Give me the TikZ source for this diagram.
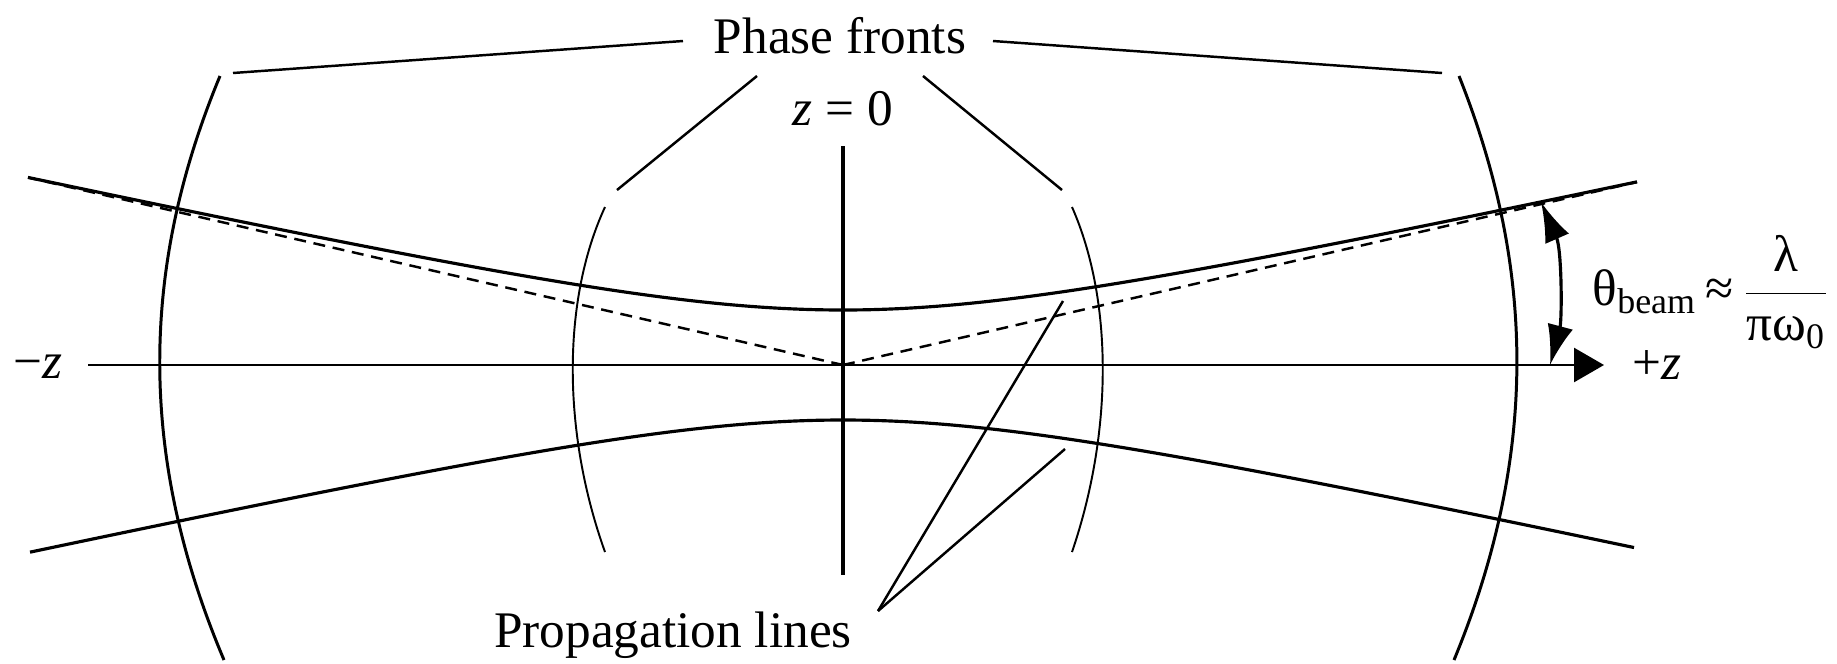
\documentclass[tikz,border=0pt]{standalone}
\usepackage{fontspec}
\setmainfont{Liberation Serif}
\usepackage{xcolor}
\definecolor{cInk}{HTML}{000000}
\usepackage{tikz}
\usetikzlibrary{positioning,arrows.meta,calc}
\tikzset{
  beam-line/.style={draw=cInk,line width=0.9pt},
  front-outer/.style={draw=cInk,line width=0.85pt},
  front-inner/.style={draw=cInk,line width=0.55pt},
  asym-line/.style={draw=cInk,line width=0.7pt,dash pattern=on 3.4pt off 2.2pt},
  leader/.style={draw=cInk,line width=0.7pt},
  axis-arrow/.style={-{Triangle[length=3mm,width=3.4mm]},line width=0.75pt,draw=cInk},
  angle-arrow/.style={{Latex[length=4mm,width=2.6mm]}-{Latex[length=4mm,width=2.6mm]},
    line width=0.9pt,draw=cInk},
  lbl/.style={font=\fontsize{14.6}{17}\selectfont,inner sep=0pt,text=cInk},
}

\begin{document}
\begin{tikzpicture}[x=0.1mm,y=-0.1mm]
  \useasboundingbox (0,0) rectangle (1837,663);

  % waist, beam ends
  \coordinate (o) at (843,365);
  \coordinate (bl) at (28,177.5);
  \coordinate (br) at (1637,182);

  % labels
  \node[lbl,anchor=base] (pf) at (840,53) {Phase fronts};
  \node[lbl,anchor=base] (z0) at (843,125) {\textit{z} = 0};
  \node[lbl,anchor=base] (pl) at (673,647) {Propagation lines};
  \node[lbl,anchor=base] (mz) at (38,378) {−\textit{z}};
  \node[lbl,anchor=base] (pz) at (1657,379) {+\textit{z}};
  \node[lbl,anchor=west] (th) at (1592,292)
    {θ\textsubscript{beam}\,≈\,$\displaystyle\frac{\mbox{λ}}{\mbox{πω\textsubscript{0}}}$};

  % axis and z = 0 plane
  \draw[axis-arrow] (88,365) -- (1604,365);
  \draw[front-outer,line width=1pt] (843,146) -- (843,575);

  % beam envelope and asymptotes
  \draw[beam-line] plot[domain=28:1637,samples=140,smooth]
    (\x,{365-10*sqrt(30.25+(0.022*(\x-843))^2)});
  \draw[beam-line] plot[domain=30:1634,samples=140,smooth]
    (\x,{365+10*sqrt(30.25+(0.022*(\x-843))^2)});
  \draw[asym-line] (o) -- (bl);
  \draw[asym-line] (o) -- (br);

  % phase fronts
  \draw[front-outer] (220,76) .. controls (139,271) and (139,459) .. (224,660);
  \draw[front-outer] (1459,76) .. controls (1537,272) and (1537,459) .. (1454,660);
  \draw[front-inner] (605,207) .. controls (562,300) and (562,432) .. (605,552);
  \draw[front-inner] (1072,207) .. controls (1113,300) and (1113,432) .. (1072,552);

  % leaders
  \coordinate (pf-l) at (683,41);
  \coordinate (pf-r) at (993,41);
  \coordinate (pf-dl) at (757,76);
  \coordinate (pf-dr) at (923,76);
  \coordinate (pl-t) at (878,611);
  \draw[leader] (pf-l) -- (233,73);
  \draw[leader] (pf-r) -- (1442,73);
  \draw[leader] (pf-dl) -- (617,190);
  \draw[leader] (pf-dr) -- (1062,190);
  \draw[leader] (pl-t) -- (1063,301);
  \draw[leader] (pl-t) -- (1065,449);

  % divergence angle
  \draw[angle-arrow] (1550,365) .. controls (1562,320) and (1562,250) .. (1541,202);
\end{tikzpicture}
\end{document}
